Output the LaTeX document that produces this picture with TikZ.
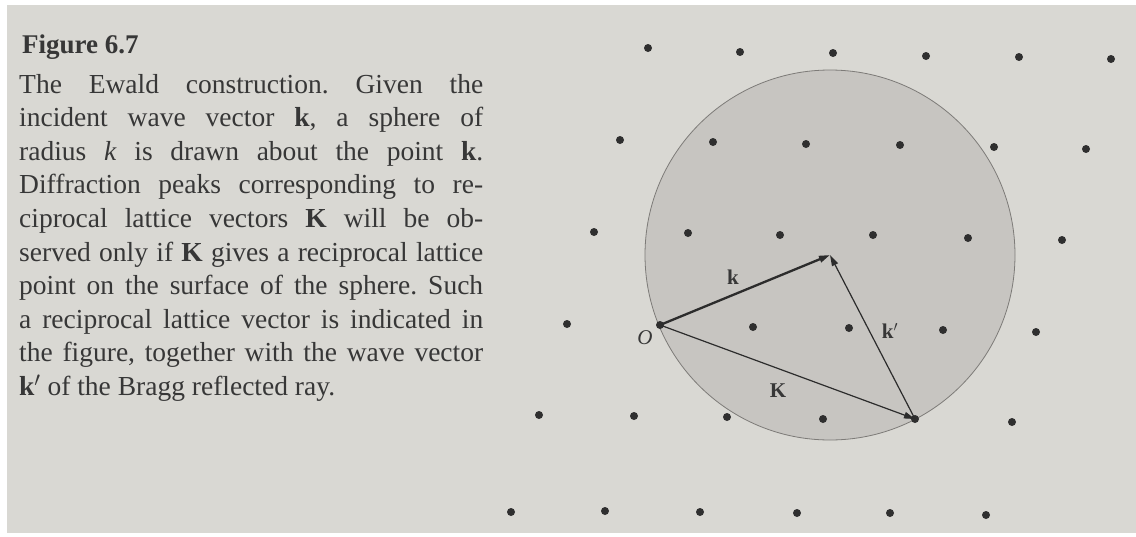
\documentclass[tikz,border=0pt]{standalone}
\usepackage{fontspec}
\setmainfont{Liberation Serif}
\usetikzlibrary{arrows.meta}
\definecolor{paper}{RGB}{217,216,211}
\definecolor{disk}{RGB}{199,197,193}
\definecolor{ink}{RGB}{55,55,55}
\definecolor{rim}{RGB}{125,123,120}
\frenchspacing
\begin{document}
\begin{tikzpicture}[x=1pt,y=-1pt,
  dot/.style={circle,fill=ink!85!black,inner sep=0pt,minimum size=8pt},
  vec/.style={-{Triangle[length=11pt,width=6.5pt]},draw=ink!80!black,line width=1.2pt},
  capline/.style={anchor=base west,inner sep=0pt,text=ink,font=\fontsize{27.5}{33.6}\selectfont},
  lab/.style={text=ink,inner sep=0pt,font=\fontsize{21}{24}\selectfont}]
\useasboundingbox (0,0) rectangle (1136,536);
\fill[white] (0,0) rectangle (1136,536);
\fill[paper] (7,5) rectangle (1136,533);

% caption
\node[capline,font=\bfseries\fontsize{27}{32}\selectfont] (head) at (22,53) {Figure 6.7};
\node[capline] (l1) at (19,93.0) {\makebox[464pt][s]{The Ewald construction. Given the}};
\node[capline] (l2) at (19,126.6) {\makebox[464pt][s]{incident wave vector \textbf{k}, a sphere of}};
\node[capline] (l3) at (19,160.2) {\makebox[464pt][s]{radius \textit{k} is drawn about the point \textbf{k}.}};
\node[capline] (l4) at (19,193.8) {\makebox[464pt][s]{Diffraction peaks corresponding to re-}};
\node[capline] (l5) at (19,227.4) {\makebox[464pt][s]{ciprocal lattice vectors \textbf{K} will be ob-}};
\node[capline] (l6) at (19,261.0) {\makebox[464pt][s]{served only if \textbf{K} gives a reciprocal lattice}};
\node[capline] (l7) at (19,294.6) {\makebox[464pt][s]{point on the surface of the sphere. Such}};
\node[capline] (l8) at (19,328.2) {\makebox[464pt][s]{a reciprocal lattice vector is indicated in}};
\node[capline] (l9) at (19,361.8) {\makebox[464pt][s]{the figure, together with the wave vector}};
\node[capline] (l10) at (19,395.4) {\textbf{k}$'$ of the Bragg reflected ray.};

% Ewald sphere
\node[circle,draw=rim,line width=0.8pt,fill=disk,minimum size=370pt,inner sep=0pt] (sph) at (830,255) {};
\coordinate (C) at (830,255);

% reciprocal lattice points
\foreach \x/\y [count=\i] in {
  648/48, 740/52, 833/53, 926/56, 1019/57, 1111/59,
  620/140, 713/142, 806/144, 900/145, 994/147, 1086/149,
  594/232, 688/233, 780/235, 873/235, 968/238, 1062/240,
  567/324, 660/325, 753/327, 849/328, 943/330, 1036/332,
  539/415, 634/416, 727/417, 823/419, 915/419, 1012/422,
  511/512, 605/511, 700/512, 797/513, 890/513, 986/515}
  {\node[dot] (d\i) at (\x,\y) {};}

% vectors: O = d20, K tip = d29
\draw[vec,line width=2.3pt] (d20.center) -- (C);
\draw[vec] (d20.center) -- (d29.center);
\draw[vec] (d29.center) -- (C);

% labels
\node[lab,font=\bfseries\fontsize{21}{24}\selectfont] (lk) at (733,277) {k};
\node[lab] (lkp) at (890,331) {\textbf{k}$'$};
\node[lab,font=\bfseries\fontsize{21}{24}\selectfont] (lK) at (778,391) {K};
\node[lab,font=\itshape\fontsize{21}{24}\selectfont] (lO) at (645,338) {O};
\end{tikzpicture}
\end{document}
